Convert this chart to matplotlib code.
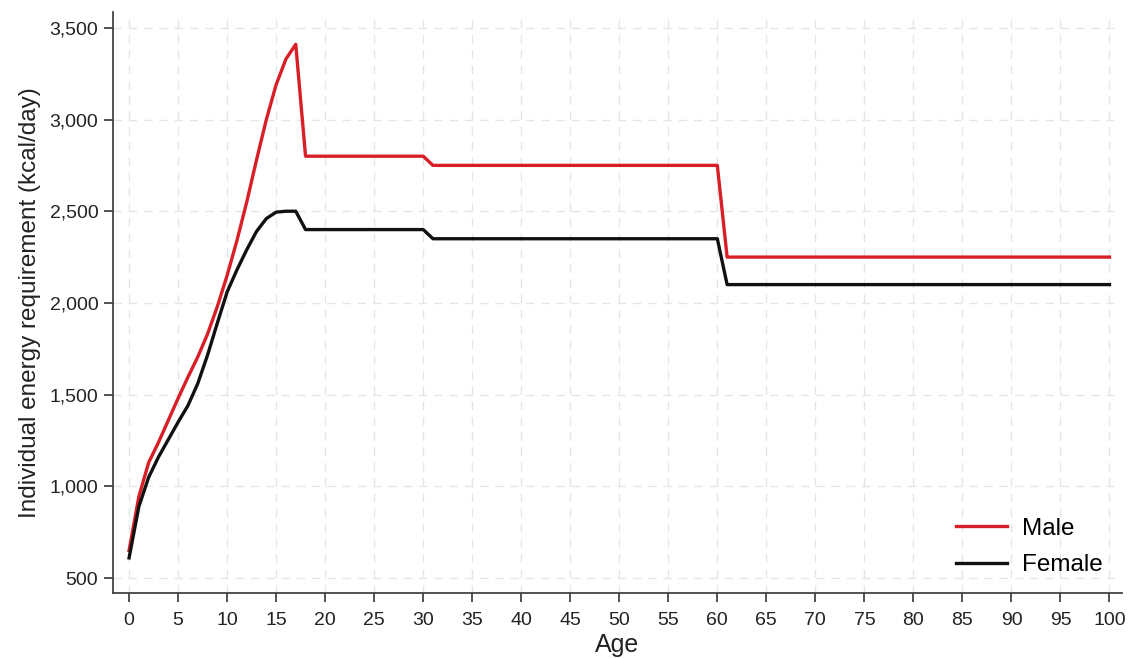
import numpy as np
import matplotlib
matplotlib.use('Agg')
import matplotlib.pyplot as plt
from matplotlib.ticker import FuncFormatter

plt.rcParams['font.family'] = ['Liberation Sans', 'DejaVu Sans']

# Age in years, 0..100
ages = list(range(0, 101))

# Male requirement (kcal/day)
male_young = [650, 945, 1130, 1240, 1360, 1480, 1595, 1705, 1830, 1980,
              2150, 2340, 2550, 2780, 3000, 3190, 3330, 3410]
male_adult = [2800] * 13          # ages 18-30
male_mid = [2750] * 30            # ages 31-60
male_old = [2250] * 40            # ages 61-100
male = male_young + male_adult + male_mid + male_old

# Female requirement (kcal/day)
female_young = [610, 890, 1050, 1160, 1255, 1350, 1440, 1560, 1715, 1890,
                2060, 2180, 2290, 2390, 2460, 2495, 2500, 2500]
female_adult = [2400] * 13
female_mid = [2350] * 30
female_old = [2100] * 40
female = female_young + female_adult + female_mid + female_old

xticks = list(range(0, 101, 5))
yticks = [500, 1000, 1500, 2000, 2500, 3000, 3500]

fig = plt.figure(figsize=(11.29, 6.59), dpi=100)
ax = fig.add_axes([0.100, 0.100, 0.894, 0.882])

ax.plot(ages, male, color='#d81e27', lw=2.4, label='Male', zorder=3)
ax.plot(ages, female, color='#111111', lw=2.4, label='Female', zorder=3)

ax.set_xlim(-1.65, 101.3)
ax.set_ylim(418, 3587)
ax.set_xticks(xticks)
ax.set_yticks(yticks)
ax.yaxis.set_major_formatter(FuncFormatter(lambda v, p: '{:,.0f}'.format(v)))

# Light dashed grid like the original
ax.grid(True, color='#e3e6e6', linestyle=(0, (6, 5)), lw=1.0, zorder=0)

for side in ['top', 'right']:
    ax.spines[side].set_visible(False)
for side in ['left', 'bottom']:
    ax.spines[side].set_color('#444444')
    ax.spines[side].set_linewidth(1.3)

ax.tick_params(axis='both', colors='#444444', labelcolor='#222222',
               labelsize=14, length=6.5, width=1.3)
ax.tick_params(axis='x', pad=7)
ax.tick_params(axis='y', pad=4)

ax.set_ylabel('Individual energy requirement (kcal/day)', fontsize=17.5,
              color='#222222', labelpad=6)
ax.set_xlabel('Age', fontsize=18, color='#222222', labelpad=3)

leg = ax.legend(loc='lower right', frameon=False, fontsize=17.5,
                handlelength=2.1, handletextpad=0.6, borderaxespad=0.0,
                labelspacing=0.6, bbox_to_anchor=(0.99, 0.012))

plt.savefig('out.png', dpi=100)
